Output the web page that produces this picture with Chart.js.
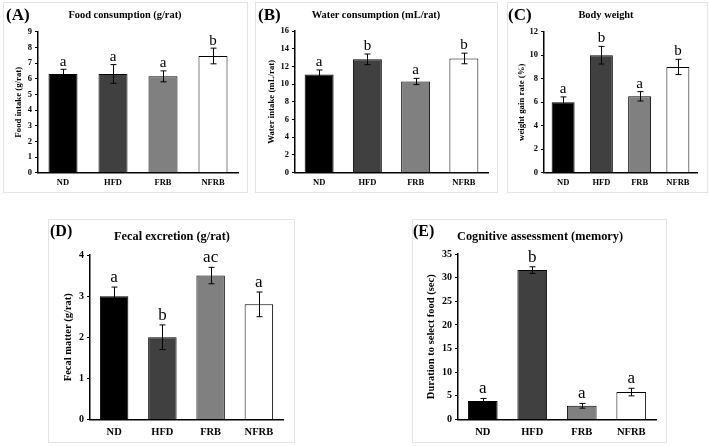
<!DOCTYPE html>
<html><head><meta charset="utf-8">
<script src="https://cdn.jsdelivr.net/npm/chart.js@4/dist/chart.umd.min.js"></script>
<style>
html,body{margin:0;padding:0;background:#fff;width:709px;height:446px;overflow:hidden;position:relative;font-family:"Liberation Serif","Times New Roman",serif;}
.box{position:absolute;border:1px solid #e3e3e3;box-sizing:border-box;}
canvas{position:absolute;}
.lbl{position:absolute;font-weight:bold;white-space:nowrap;line-height:1;color:#000;}
.ttl{position:absolute;font-weight:bold;white-space:nowrap;line-height:1;color:#000;transform:translate(-50%,-50%);}
</style></head><body>
<div class="box" style="left:3px;top:2px;width:245px;height:191px"></div>
<div class="box" style="left:255px;top:2px;width:243px;height:191px"></div>
<div class="box" style="left:507px;top:2px;width:201px;height:191px"></div>
<div class="box" style="left:48px;top:219px;width:247px;height:224px"></div>
<div class="box" style="left:412px;top:219px;width:255px;height:224px"></div>
<canvas id="cA" width="245" height="191" style="left:3px;top:2px"></canvas>
<canvas id="cB" width="243" height="191" style="left:255px;top:2px"></canvas>
<canvas id="cC" width="200" height="191" style="left:507px;top:2px"></canvas>
<canvas id="cD" width="247" height="224" style="left:48px;top:219px"></canvas>
<canvas id="cE" width="255" height="224" style="left:412px;top:219px"></canvas>
<div class="lbl" style="left:6px;top:6px;font-size:17px">(A)</div>
<div class="lbl" style="left:258px;top:6px;font-size:17px">(B)</div>
<div class="lbl" style="left:508px;top:6px;font-size:17px">(C)</div>
<div class="lbl" style="left:50px;top:223px;font-size:16px">(D)</div>
<div class="lbl" style="left:413px;top:223px;font-size:16px">(E)</div>
<div class="ttl" style="left:125px;top:15px;font-size:10.4px">Food consumption (g/rat)</div>
<div class="ttl" style="left:376px;top:15px;font-size:10.4px">Water consumption (mL/rat)</div>
<div class="ttl" style="left:606px;top:15px;font-size:10.4px">Body weight</div>
<div class="ttl" style="left:172px;top:236px;font-size:12.3px">Fecal excretion (g/rat)</div>
<div class="ttl" style="left:540px;top:236px;font-size:12.3px">Cognitive assessment (memory)</div>
<script>
const categories = ['ND', 'HFD', 'FRB', 'NFRB'];

const foodMeans = [6.3, 6.3, 6.15, 7.45];
const foodErrors = [0.3, 0.6, 0.35, 0.5];
const foodLetters = ['a', 'a', 'a', 'b'];

const waterMeans = [11.1, 12.8, 10.3, 12.9];
const waterErrors = [0.5, 0.6, 0.35, 0.6];
const waterLetters = ['a', 'b', 'a', 'b'];

const weightMeans = [6.0, 10.0, 6.5, 9.0];
const weightErrors = [0.45, 0.75, 0.4, 0.65];
const weightLetters = ['a', 'b', 'a', 'b'];

const fecalMeans = [3.0, 2.0, 3.5, 2.8];
const fecalErrors = [0.22, 0.3, 0.2, 0.3];
const fecalLetters = ['a', 'b', 'ac', 'a'];

const memoryMeans = [3.9, 31.6, 2.9, 5.8];
const memoryErrors = [0.55, 0.7, 0.5, 0.8];
const memoryLetters = ['a', 'b', 'a', 'a'];

const barColors = ['#000000', '#404040', '#808080', '#ffffff'];
const FONT = '"Liberation Serif", "Times New Roman", serif';

const errPlugin = {
  id: 'errbars',
  afterDatasetsDraw(chart, args, opts) {
    const meta = chart.getDatasetMeta(0);
    const ys = chart.scales.y;
    const ctx = chart.ctx;
    const ds = chart.data.datasets[0];
    ctx.save();
    ctx.strokeStyle = '#000';
    ctx.lineWidth = 1;
    meta.data.forEach((bar, i) => {
      const v = ds.data[i], e = opts.errors[i];
      const x = Math.round(bar.x) + 0.5;
      const yt = ys.getPixelForValue(v + e), yb = ys.getPixelForValue(v - e);
      ctx.beginPath();
      ctx.moveTo(x, yt); ctx.lineTo(x, yb);
      ctx.moveTo(x - 3, yt); ctx.lineTo(x + 3, yt);
      ctx.moveTo(x - 3, yb); ctx.lineTo(x + 3, yb);
      ctx.stroke();
      ctx.font = opts.letterSize + 'px ' + FONT;
      ctx.fillStyle = '#000';
      ctx.textAlign = 'center';
      ctx.textBaseline = 'alphabetic';
      ctx.fillText(opts.letters[i], bar.x, yt - opts.gap);
    });
    ctx.restore();
  }
};

function makeChart(p) {
  return new Chart(document.getElementById(p.id), {
    type: 'bar',
    data: {
      labels: categories,
      datasets: [{
        data: p.means,
        backgroundColor: barColors,
        borderColor: '#000',
        borderWidth: 1,
        borderSkipped: 'bottom',
        barPercentage: p.barPct,
        categoryPercentage: 1
      }]
    },
    options: {
      responsive: false, animation: false, devicePixelRatio: 1,
      layout: { padding: { left: 0, right: p.padR, top: p.padT, bottom: 0 } },
      plugins: {
        legend: { display: false }, tooltip: { enabled: false },
        errbars: { errors: p.errors, letters: p.letters, letterSize: p.letterSize, gap: p.gap }
      },
      scales: {
        x: {
          grid: { display: false, drawTicks: false },
          border: { color: '#000', width: 1.5 },
          ticks: { color: '#000', font: { family: FONT, weight: 'bold', size: p.xFont }, padding: p.xPad, maxRotation: 0 },
          afterFit(s) { s.height = p.xh; }
        },
        y: {
          min: 0, max: p.max,
          grid: { drawOnChartArea: false, drawTicks: true, tickLength: 3, color: '#000', lineWidth: 1 },
          border: { color: '#000', width: 1.5 },
          ticks: { stepSize: p.step, color: '#000', font: { family: FONT, weight: 'bold', size: p.yFont }, padding: 3 },
          title: { display: true, text: p.ytitle, color: '#000', font: { family: FONT, weight: 'bold', size: p.ytFont }, padding: { top: p.ytPad, bottom: 0 } },
          afterFit(s) { s.width = p.yw; }
        }
      }
    },
    plugins: [errPlugin]
  });
}

makeChart({ id: 'cA', means: foodMeans, errors: foodErrors, letters: foodLetters, max: 9, step: 1,
  ytitle: 'Food intake (g/rat)', yw: 35, padR: 10, padT: 29.7, xh: 20.3, ytPad: 10.5, barPct: 0.58,
  xFont: 8.5, xPad: 5, yFont: 8.5, ytFont: 8.8, letterSize: 15, gap: 3.5 });
makeChart({ id: 'cB', means: waterMeans, errors: waterErrors, letters: waterLetters, max: 16, step: 2,
  ytitle: 'Water intake (mL/rat)', yw: 40, padR: 10, padT: 29, xh: 20.3, ytPad: 11.5, barPct: 0.6,
  xFont: 8.5, xPad: 5, yFont: 8.5, ytFont: 8.8, letterSize: 15, gap: 4 });
makeChart({ id: 'cC', means: weightMeans, errors: weightErrors, letters: weightLetters, max: 12, step: 2,
  ytitle: 'weight gain rate (%)', yw: 37, padR: 10, padT: 29.7, xh: 20.3, ytPad: 9.5, barPct: 0.6,
  xFont: 8.5, xPad: 5, yFont: 8.5, ytFont: 8.8, letterSize: 15, gap: 4 });
makeChart({ id: 'cD', means: fecalMeans, errors: fecalErrors, letters: fecalLetters, max: 4, step: 1,
  ytitle: 'Fecal matter (g/rat)', yw: 42, padR: 12, padT: 36, xh: 23.5, ytPad: 14, barPct: 0.59,
  xFont: 10.5, xPad: 6, yFont: 10, ytFont: 10.5, letterSize: 17, gap: 5 });
makeChart({ id: 'cE', means: memoryMeans, errors: memoryErrors, letters: memoryLetters, max: 35, step: 5,
  ytitle: 'Duration to select food (sec)', yw: 46, padR: 11, padT: 35, xh: 23.5, ytPad: 13, barPct: 0.6,
  xFont: 10.5, xPad: 6, yFont: 10, ytFont: 10.5, letterSize: 17, gap: 5 });
</script>
</body></html>
